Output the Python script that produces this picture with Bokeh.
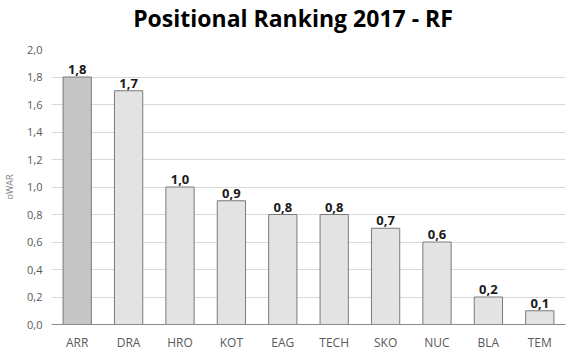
from bokeh.plotting import figure
from bokeh.models import ColumnDataSource, FixedTicker, CustomJSTickFormatter, LabelSet, Range1d, Div
from bokeh.layouts import column
from bokeh.core.properties import value
from bokeh.embed import file_html
from bokeh.resources import INLINE

categories = ["ARR", "DRA", "HRO", "KOT", "EAG", "TECH", "SKO", "NUC", "BLA", "TEM"]
values = [1.8, 1.7, 1.0, 0.9, 0.8, 0.8, 0.7, 0.6, 0.2, 0.1]
y_ticks = [0.0, 0.2, 0.4, 0.6, 0.8, 1.0, 1.2, 1.4, 1.6, 1.8, 2.0]
title_text = "Positional Ranking 2017 - RF"
y_label = "oWAR"

fills = ["#c6c6c6"] + ["#e3e3e3"] * (len(categories) - 1)
labels = [f"{v:.1f}".replace(".", ",") for v in values]

src = ColumnDataSource(dict(cat=categories, val=values, fill=fills, lab=labels))

FONT = "Open Sans"
W = 566

title = Div(text=title_text, width=W, height=32,
            styles={"font-family": FONT, "font-size": "23px", "font-weight": "bold",
                    "text-align": "center", "line-height": "26px", "color": "#000000",
                    "white-space": "nowrap", "text-indent": "10px"})

p = figure(x_range=categories, y_range=Range1d(0, 2.0), width=W, height=311,
           output_backend="svg", toolbar_location=None,
           min_border_left=41, min_border_right=1, min_border_top=7, min_border_bottom=26)

p.vbar(x="cat", top="val", width=0.55, source=src, fill_color="fill",
       line_color="#7a7a7a", line_width=1)

p.add_layout(LabelSet(x="cat", y="val", text="lab", source=src, text_align="center",
                      text_baseline="bottom", y_offset=3, text_font=value(FONT),
                      text_font_size=value("13px"), text_font_style="bold", text_color="#1a1a1a"))

p.outline_line_color = None
p.xgrid.grid_line_color = None
p.ygrid.grid_line_color = "#d9d9d9"
p.ygrid.ticker = FixedTicker(ticks=y_ticks)

p.yaxis.ticker = FixedTicker(ticks=y_ticks)
p.yaxis.formatter = CustomJSTickFormatter(code="return tick.toFixed(1).replace('.', ',');")
p.yaxis.axis_line_color = None
p.yaxis.major_tick_line_color = None
p.yaxis.minor_tick_line_color = None
p.yaxis.major_tick_out = 0
p.yaxis.minor_tick_out = 0
p.yaxis.major_label_text_font = FONT
p.yaxis.major_label_text_font_size = "11px"
p.yaxis.major_label_text_color = "#595959"
p.yaxis.major_label_standoff = 9
p.yaxis.axis_label = y_label
p.yaxis.axis_label_text_font = FONT
p.yaxis.axis_label_text_font_size = "9px"
p.yaxis.axis_label_text_font_style = "normal"
p.yaxis.axis_label_text_color = "#7f7f7f"
p.yaxis.axis_label_standoff = 8

p.xaxis.axis_line_color = "#8c8c8c"
p.xaxis.major_tick_line_color = None
p.xaxis.minor_tick_line_color = None
p.xaxis.major_tick_out = 0
p.xaxis.minor_tick_out = 0
p.xaxis.axis_label_standoff = 0
p.xaxis.major_label_text_font = FONT
p.xaxis.major_label_text_font_size = "12px"
p.xaxis.major_label_text_color = "#595959"
p.xaxis.major_label_standoff = 9

layout = column(title, p, spacing=0)

open("out.html", "w").write(file_html(layout, INLINE))
